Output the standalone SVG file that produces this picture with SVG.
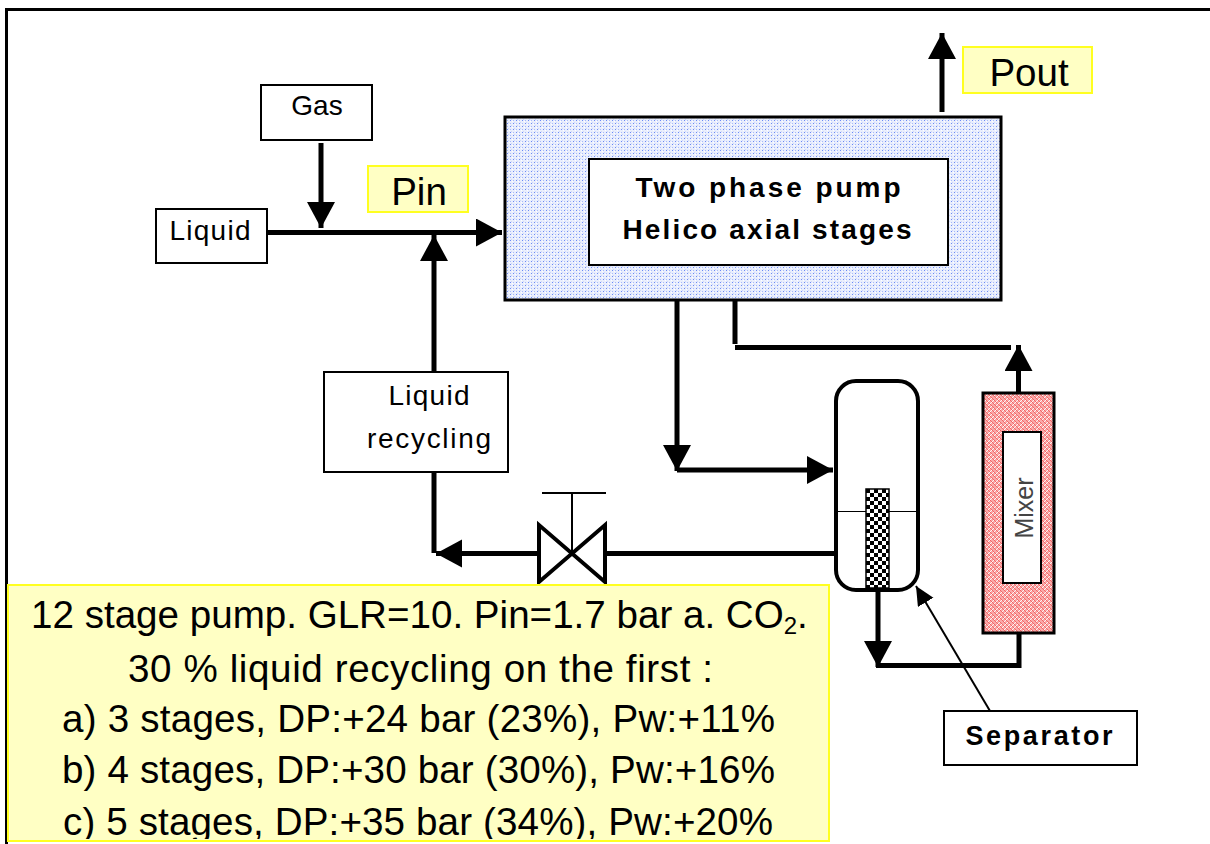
<svg xmlns="http://www.w3.org/2000/svg" width="1210" height="844" viewBox="0 0 1210 844">
<style>
.t{font-family:"Liberation Sans",Arial,sans-serif;fill:#000}
.m{text-anchor:middle}
.b{font-weight:bold}
.box{fill:#fff;stroke:#000;stroke-width:2}
.tag{fill:#ffffc4;stroke:#ffff20;stroke-width:2}
.c{fill:none;stroke:#000;stroke-width:5}
.ar{marker-end:url(#ah)}
.big{font-size:38.600px}
</style>
<defs>
<marker id="ah" markerUnits="userSpaceOnUse" markerWidth="28" markerHeight="30" refX="26" refY="14" orient="auto"><path d="M0 0L26 14L0 28Z" fill="#000"/></marker>
<marker id="ahs" markerUnits="userSpaceOnUse" markerWidth="20" markerHeight="20" refX="19" refY="9" orient="auto"><path d="M0 0L19 9L0 18Z" fill="#000"/></marker>
<pattern id="blue" width="6" height="6" patternUnits="userSpaceOnUse">
<rect width="6" height="6" fill="#e9eefd"/>
<rect x="0" y="0" width="1" height="1" fill="#6b8af4"/><rect x="3" y="0" width="1" height="1" fill="#a9bcf8"/><rect x="0" y="3" width="1" height="1" fill="#a9bcf8"/><rect x="3" y="3" width="1" height="1" fill="#6b8af4"/>
<rect x="2" y="1" width="1" height="1" fill="#fff"/><rect x="5" y="4" width="1" height="1" fill="#fff"/><rect x="4" y="2" width="1" height="1" fill="#ccd8fa"/><rect x="1" y="5" width="1" height="1" fill="#ccd8fa"/>
</pattern>
<pattern id="red" width="8" height="8" patternUnits="userSpaceOnUse">
<rect width="8" height="8" fill="#f9a8a8"/>
<path d="M0 2L2 0M2 4L6 0M4 6L8 2M6 8L8 6" stroke="#fff" stroke-width="1" opacity=".9"/>
<path d="M0 6L2 8M0 2L6 8M2 0L8 6M6 0L8 2" stroke="#ee2a2a" stroke-width=".7" opacity=".75"/>
</pattern>
<pattern id="chk" width="8" height="8" patternUnits="userSpaceOnUse" x="866" y="489">
<rect width="8" height="8" fill="#fff"/><rect width="4" height="4" fill="#000"/><rect x="4" y="4" width="4" height="4" fill="#000"/>
</pattern>
<clipPath id="panelclip"><rect x="9" y="586" width="820" height="253"/></clipPath>
</defs>
<rect width="1210" height="844" fill="#fff"/>
<path d="M1210 9.500H6.500V844" fill="none" stroke="#000" stroke-width="3"/>

<g id="pump">
<rect x="505" y="117" width="496" height="183" fill="url(#blue)" stroke="#000" stroke-width="3"/>
<rect x="589" y="159" width="359" height="106" class="box"/>
<text class="t b m" x="768" y="197" font-size="28" textLength="265">Two phase pump</text>
<text class="t b m" x="767" y="239" font-size="28" textLength="289">Helico axial stages</text>
</g>
<g id="gas"><rect x="261" y="85" width="111" height="55" class="box"/><text class="t m" x="317" y="115" font-size="28">Gas</text></g>
<g id="liquid"><rect x="156" y="209" width="111" height="54" class="box"/><text class="t m" x="210" y="240" font-size="28" textLength="81">Liquid</text></g>
<g id="pin"><rect x="368" y="166" width="100" height="46" class="tag"/><text class="t m" x="419" y="205" font-size="38.500">Pin</text></g>
<g id="pout"><rect x="963" y="47" width="129" height="46" class="tag"/><text class="t m" x="1029" y="86" font-size="38.500">Pout</text></g>
<g id="recycling"><rect x="324" y="372" width="184" height="100" class="box"/>
<text class="t m" x="429" y="405" font-size="28" textLength="81">Liquid</text>
<text class="t m" x="429" y="448" font-size="28" textLength="124">recycling</text></g>

<g id="connectors">
<path class="c ar" d="M321 143V228"/>
<path class="c ar" d="M267 232.500H502"/>
<path class="c ar" d="M434 372V235"/>
<path class="c ar" d="M942 112V33"/>
<path class="c ar" d="M677 300V471"/>
<path class="c ar" d="M677 470H833"/>
<path class="c" d="M735 300V344"/>
<path class="c" d="M735 347.500H1011"/>
<path class="c ar" d="M1018.500 393V345"/>
<path class="c ar" d="M609 553.500H436"/>
<path class="c" d="M609 553.500H836"/>
<path class="c" d="M434 472V553"/>
<path class="c ar" d="M878 590V667"/>
<path class="c" d="M1019 633V665.500H876"/>
<path d="M990 711L916 586" fill="none" stroke="#000" stroke-width="2" marker-end="url(#ahs)"/>
</g>

<g id="valve">
<path d="M539 525V582L605 525V582Z" fill="#fff" stroke="#000" stroke-width="4" stroke-linejoin="miter"/>
<path d="M572 493V553M542 493H606" fill="none" stroke="#000" stroke-width="2"/>
</g>
<g id="separator">
<rect x="836" y="381" width="82" height="209" rx="20" fill="#fff" stroke="#000" stroke-width="4"/>
<path d="M838 511.500H916" stroke="#000" stroke-width="1"/>
<rect x="866" y="489" width="23" height="99" fill="url(#chk)" stroke="#000" stroke-width="1.500"/>
</g>
<g id="mixer">
<rect x="983" y="393" width="71" height="240" fill="url(#red)" stroke="#000" stroke-width="3"/>
<rect x="1003" y="432" width="38" height="151" class="box"/>
<text class="t m" transform="translate(1033 508) rotate(-90)" font-size="25" style="fill:#444">Mixer</text>
</g>
<g id="separator-label"><rect x="944" y="711" width="193" height="54" class="box"/><text class="t b m" x="1039" y="745" font-size="27" textLength="147">Separator</text></g>

<g id="notes">
<rect x="8" y="585" width="821" height="256" class="tag"/>
<g clip-path="url(#panelclip)">
<text class="t big" x="31" y="628">12 stage pump. GLR=10. Pin=1.7 bar a. CO<tspan font-size="24" dy="6">2</tspan><tspan dy="-6">.</tspan></text>
<text class="t big" x="128" y="682" textLength="585">30 % liquid recycling on the first  :</text>
<text class="t big" x="62" y="732" textLength="713">a) 3 stages, DP:+24 bar (23%), Pw:+11%</text>
<text class="t big" x="62" y="783" textLength="713">b) 4 stages, DP:+30 bar (30%), Pw:+16%</text>
<text class="t big" x="63" y="835" textLength="710">c) 5 stages, DP:+35 bar (34%), Pw:+20%</text>
</g>
</g>
</svg>
